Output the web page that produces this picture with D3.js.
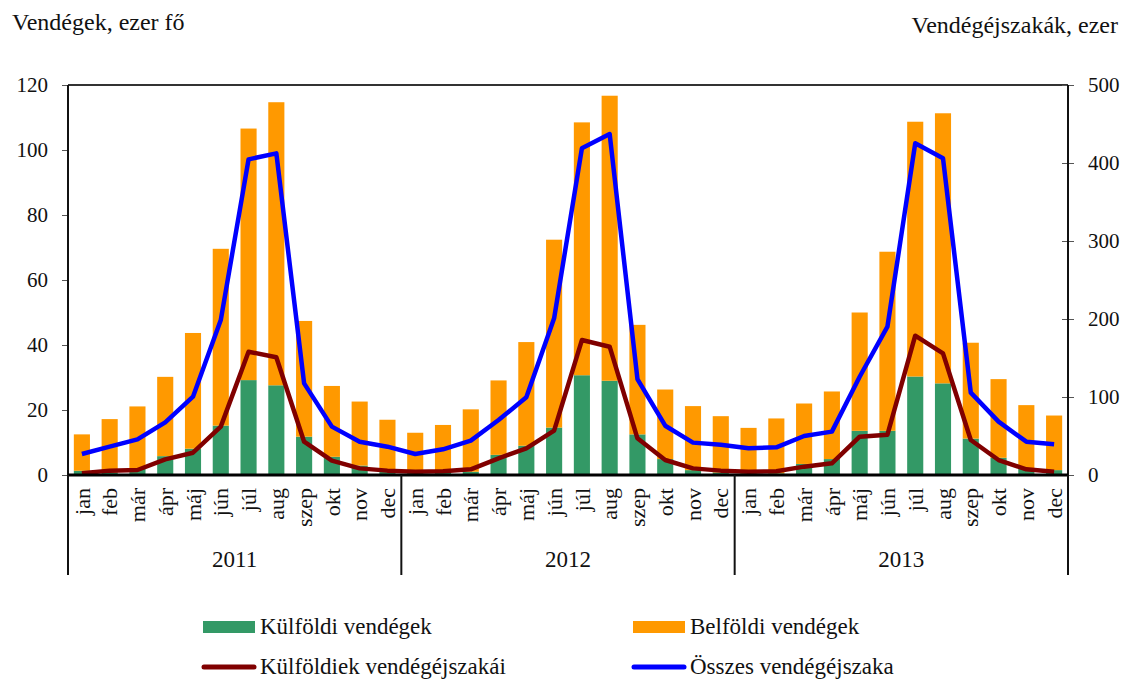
<!DOCTYPE html>
<html>
<head>
<meta charset="utf-8">
<script src="https://cdn.jsdelivr.net/npm/d3@7"></script>
<style>
    body { margin: 0; background: #fff; }
    text { font-family: "Liberation Serif", "DejaVu Serif", serif; fill: #111; }
</style>
</head>
<body>
<div id="chart"></div>
<script>
// months and years for the grouped x axis
var months = ["jan", "feb", "már", "ápr", "máj", "jún", "júl", "aug", "szep", "okt", "nov", "dec"];
var years = ["2011", "2012", "2013"];

// guests, thousand people (stacked bars)
var foreignGuests = [
    1.3, 0.8, 2.0, 5.8, 8.1, 15.2, 29.2, 27.6, 11.8, 5.6, 2.9, 1.5,
    0.8, 0.8, 1.0, 6.2, 9.0, 14.6, 30.7, 29.0, 12.5, 4.9, 1.5, 0.8,
    0.5, 0.5, 3.4, 4.9, 13.6, 13.6, 30.3, 28.2, 11.2, 5.3, 2.1, 1.5
];
var domesticGuests = [
    11.2, 16.4, 19.1, 24.4, 35.6, 54.4, 77.4, 87.1, 35.6, 21.8, 19.7, 15.5,
    12.2, 14.6, 19.2, 22.9, 31.9, 57.8, 77.8, 87.7, 33.7, 21.4, 19.7, 17.3,
    14.0, 16.9, 18.6, 20.8, 36.4, 55.1, 78.4, 83.1, 29.5, 24.2, 19.4, 16.8
];

// guest nights, thousand (lines, right axis)
var foreignNights = [
    2.1, 5.6, 6.4, 20.1, 28.6, 62, 158, 151, 42.7, 18.4, 8.5, 5.6,
    4.3, 4.9, 7.3, 21.4, 34.2, 56.8, 173, 164.5, 47, 19.2, 8.5, 5.6,
    4.3, 4.9, 10.7, 15, 49.1, 51.7, 178.6, 156, 44.9, 19.2, 7.3, 4.3
];
var totalNights = [
    26.9, 36.3, 45.7, 67.5, 100.4, 198.7, 404.7, 412.4, 117.5, 62, 42.7, 36.3,
    26.9, 32.9, 44, 70.5, 99.6, 200.9, 418.8, 437.2, 123, 63.2, 41.5, 38.9,
    34.2, 35.5, 50, 55.6, 126, 190.2, 425.2, 406, 105.6, 68.4, 42.7, 39.3
];

var leftTicks = [0, 20, 40, 60, 80, 100, 120];
var rightTicks = [0, 100, 200, 300, 400, 500];

var W = 1122, H = 679;
// note: "top" is taken by window.top, so the plot edges get their own names
var pLeft = 68, pRight = 1068, pTop = 85, pBottom = 475;

var svg = d3.select("#chart").append("svg").attr("width", W).attr("height", H);

// one key per month, e.g. "2011|jan"
var keys = [];
years.forEach(function (y) {
    months.forEach(function (m) { keys.push(y + "|" + m); });
});

var rows = keys.map(function (k, i) {
    return { key: k, foreign: foreignGuests[i], domestic: domesticGuests[i], fn: foreignNights[i], tn: totalNights[i] };
});

var x = d3.scaleBand().domain(keys).range([pLeft, pRight]).paddingInner(0.42).paddingOuter(0.21);
var yL = d3.scaleLinear().domain([0, 120]).range([pBottom, pTop]);
var yR = d3.scaleLinear().domain([0, 500]).range([pBottom, pTop]);
var cx = function (d) { return x(d.key) + x.bandwidth() / 2; };

// stacked bars
var stack = d3.stack().keys(["foreign", "domestic"])(rows);
var colors = { foreign: "#339966", domestic: "#ff9900" };

svg.append("g").selectAll("g")
    .data(stack)
    .enter().append("g")
    .attr("fill", function (s) { return colors[s.key]; })
    .selectAll("rect")
    .data(function (s) { return s; })
    .enter().append("rect")
    .attr("x", function (d) { return x(d.data.key); })
    .attr("width", x.bandwidth())
    .attr("y", function (d) { return yL(d[1]); })
    .attr("height", function (d) { return yL(d[0]) - yL(d[1]); });

// lines
var lineFn = d3.line().x(cx).y(function (d) { return yR(d.fn); });
var lineTn = d3.line().x(cx).y(function (d) { return yR(d.tn); });

svg.append("path").datum(rows).attr("d", lineFn)
    .attr("fill", "none").attr("stroke", "#800000").attr("stroke-width", 4.5).attr("stroke-linejoin", "round");
svg.append("path").datum(rows).attr("d", lineTn)
    .attr("fill", "none").attr("stroke", "#0000ff").attr("stroke-width", 4.5).attr("stroke-linejoin", "round");

// frame: top line
svg.append("line").attr("x1", pLeft).attr("x2", pRight).attr("y1", pTop).attr("y2", pTop)
    .attr("stroke", "#333").attr("stroke-width", 2);

// left axis
var axL = svg.append("g").attr("transform", "translate(" + pLeft + ",0)")
    .call(d3.axisLeft(yL).tickValues(leftTicks).tickSize(6).tickPadding(14));
axL.select(".domain").remove();
axL.selectAll("line").attr("stroke", "#555");
axL.selectAll("text").style("font-size", "21px").style("font-family", "Liberation Serif").style("fill", "#111");
svg.append("line").attr("x1", pLeft).attr("x2", pLeft).attr("y1", pTop).attr("y2", pBottom)
    .attr("stroke", "#111").attr("stroke-width", 2);

// right axis, ticks cross the line
var axR = svg.append("g").attr("transform", "translate(" + pRight + ",0)")
    .call(d3.axisRight(yR).tickValues(rightTicks).tickSize(6).tickPadding(14));
axR.select(".domain").remove();
axR.selectAll("line").attr("x1", -6).attr("stroke", "#555");
axR.selectAll("text").style("font-size", "21px").style("font-family", "Liberation Serif").style("fill", "#111");
svg.append("line").attr("x1", pRight).attr("x2", pRight).attr("y1", pTop).attr("y2", pBottom)
    .attr("stroke", "#111").attr("stroke-width", 2);

// bottom axis with rotated month names
var axB = svg.append("g").attr("transform", "translate(0," + pBottom + ")")
    .call(d3.axisBottom(x).tickSize(0).tickFormat(function (k) { return k.split("|")[1]; }));
axB.select(".domain").remove();
axB.selectAll("text")
    .attr("transform", "rotate(-90)")
    .attr("x", -13).attr("y", 0).attr("dy", "0.35em")
    .attr("text-anchor", "end")
    .style("font-size", "22px").style("font-family", "Liberation Serif").style("fill", "#111");

svg.append("line").attr("x1", pLeft).attr("x2", pRight).attr("y1", pBottom).attr("y2", pBottom)
    .attr("stroke", "#000").attr("stroke-width", 3);

// year groups: separators and labels
var yearW = (pRight - pLeft) / years.length;
var sepX = d3.range(years.length + 1).map(function (i) { return pLeft + i * yearW; });
svg.append("g").selectAll("line").data(sepX).enter().append("line")
    .attr("x1", function (d) { return d; }).attr("x2", function (d) { return d; })
    .attr("y1", pBottom).attr("y2", 575)
    .attr("stroke", "#111").attr("stroke-width", 2);
svg.append("g").selectAll("text").data(years).enter().append("text")
    .attr("x", function (d, i) { return pLeft + (i + 0.5) * yearW; })
    .attr("y", 567)
    .attr("text-anchor", "middle")
    .style("font-size", "23px")
    .text(function (d) { return d; });

// axis titles
svg.append("text").attr("x", 12).attr("y", 30).style("font-size", "24px").text("Vendégek, ezer fő");
svg.append("text").attr("x", 1118).attr("y", 33).attr("text-anchor", "end").style("font-size", "24px").text("Vendégéjszakák, ezer");

// legend
var legend = [
    { label: "Külföldi vendégek", type: "rect", color: colors.foreign, x: 203, y: 627 },
    { label: "Belföldi vendégek", type: "rect", color: colors.domestic, x: 633, y: 627 },
    { label: "Külföldiek vendégéjszakái", type: "line", color: "#800000", x: 203, y: 667 },
    { label: "Összes vendégéjszaka", type: "line", color: "#0000ff", x: 633, y: 667 }
];
var lg = svg.append("g").selectAll("g").data(legend).enter().append("g")
    .attr("transform", function (d) { return "translate(" + d.x + "," + d.y + ")"; });
lg.filter(function (d) { return d.type === "rect"; }).append("rect")
    .attr("x", 0).attr("y", -6).attr("width", 52).attr("height", 12)
    .attr("fill", function (d) { return d.color; });
lg.filter(function (d) { return d.type === "line"; }).append("line")
    .attr("x1", 1).attr("x2", 51).attr("y1", 0).attr("y2", 0)
    .attr("stroke", function (d) { return d.color; }).attr("stroke-width", 5).attr("stroke-linecap", "round");
lg.append("text").attr("x", 57).attr("y", 0).attr("dy", "0.32em")
    .style("font-size", "23px")
    .text(function (d) { return d.label; });
</script>
</body>
</html>
